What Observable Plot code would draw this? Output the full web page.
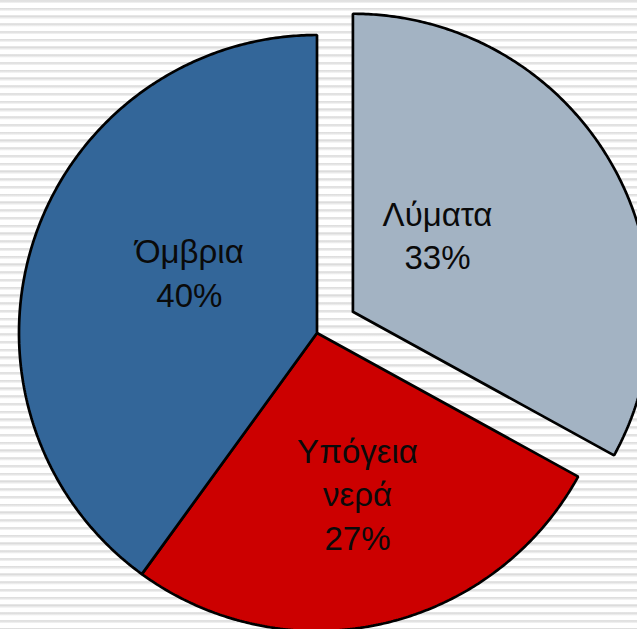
<!DOCTYPE html>
<html>
<head>
<meta charset="utf-8">
<script src="https://cdn.jsdelivr.net/npm/d3@7"></script>
<script src="https://cdn.jsdelivr.net/npm/@observablehq/plot@0.6"></script>
<style>
  html, body { margin: 0; padding: 0; background: #fff; }
  #chart { width: 637px; height: 629px; overflow: hidden; }
</style>
</head>
<body>
<div id="chart"></div>
<script>
// ---- data ----
const categories = ["Λύματα", "Υπόγεια νερά", "Όμβρια"];
const values = [33, 27, 40];
const labels = ["Λύματα\n33%", "Υπόγεια\nνερά\n27%", "Όμβρια\n40%"];
const colors = ["#A3B3C3", "#CC0000", "#336699"];

// ---- geometry derived from data ----
const total = d3.sum(values);
const explodeFrac = [0.14, 0, 0];          // exploded slice offset (radius units)
const labelPlace = [[-12.2, 0.387], [-1.65, 0.552], [7.9, 0.476]]; // [angle nudge deg, radius]
const toRad = Math.PI / 180;

let start = 0;
const slices = categories.map((name, i) => {
  const a0 = start;
  const a1 = start + values[i] / total * 360;
  start = a1;
  const mid = (a0 + a1) / 2;
  const ox = Math.sin(mid * toRad) * explodeFrac[i];
  const oy = Math.cos(mid * toRad) * explodeFrac[i];
  return {name, i, a0, a1, mid, ox, oy};
});

const outline = [];
for (const s of slices) {
  outline.push({name: s.name, x: s.ox, y: s.oy});
  const n = Math.ceil((s.a1 - s.a0) / 0.5);
  for (let k = 0; k <= n; k++) {
    const a = (s.a0 + (s.a1 - s.a0) * k / n) * toRad;
    outline.push({name: s.name, x: s.ox + Math.sin(a), y: s.oy + Math.cos(a)});
  }
  outline.push({name: s.name, x: s.ox, y: s.oy});
}

const labelData = slices.map(s => {
  const [da, r] = labelPlace[s.i];
  const a = (s.mid + da) * toRad;
  return {name: s.name, text: labels[s.i], x: s.ox + Math.sin(a) * r, y: s.oy + Math.cos(a) * r};
});

const W = 637, H = 629, R = 298, CX = 316.5, CY = 332.5;

const chart = Plot.plot({
  width: W,
  height: H,
  margin: 0,
  style: {
    background: "repeating-linear-gradient(to bottom, #e6e6e6 0px, #dcdcdc 1px, #e9e9e9 2px, #f4f4f4 3px, #ffffff 3.5px, #ffffff 7.75px)",
    overflow: "hidden"
  },
  x: {domain: [-CX / R, (W - CX) / R], axis: null},
  y: {domain: [-(H - CY) / R, CY / R], axis: null},
  color: {domain: categories, range: colors},
  marks: [
    Plot.line(outline, {
      x: "x", y: "y", z: "name", fill: "name",
      stroke: "#000", strokeWidth: 2.7, strokeLinejoin: "miter", curve: "linear"
    }),
    Plot.text(labelData, {
      x: "x", y: "y", text: "text",
      fontSize: 33, lineHeight: 1.33,
      fontFamily: "'Liberation Sans', Arial, sans-serif",
      fill: "#0a0a0a", textAnchor: "middle", lineAnchor: "middle"
    })
  ]
});
document.getElementById("chart").appendChild(chart);
</script>
</body>
</html>
